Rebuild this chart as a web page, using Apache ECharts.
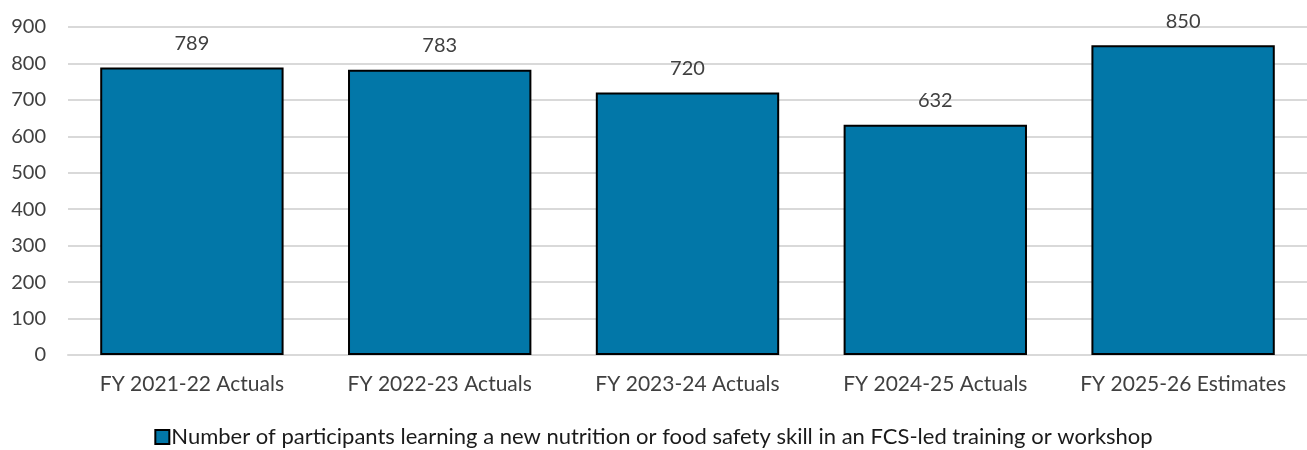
<!DOCTYPE html>
<html>
<head>
<meta charset="utf-8">
<script src="https://cdn.jsdelivr.net/npm/echarts@6/dist/echarts.min.js"></script>
<style>
  html, body { margin: 0; padding: 0; background: #fff; }
  #chart { width: 1307px; height: 450px; }
</style>
</head>
<body>
<div id="chart"></div>
<script>
// Fiscal years shown along the x axis
const categories = [
  'FY 2021-22 Actuals',
  'FY 2022-23 Actuals',
  'FY 2023-24 Actuals',
  'FY 2024-25 Actuals',
  'FY 2025-26 Estimates'
];
// Participant counts per year
const participants = [789, 783, 720, 632, 850];
const seriesName = 'Number of participants learning a new nutrition or food safety skill in an FCS-led training or workshop';

const FONT = 'Lato, "Open Sans", sans-serif';
const TEXT = '#404040';

const chart = echarts.init(document.getElementById('chart'), null, { renderer: 'canvas' });
chart.setOption({
  animation: false,
  textStyle: { fontFamily: FONT },
  grid: { left: 68, right: 0, top: 27, bottom: 95, containLabel: false },
  legend: {
    bottom: -3,
    left: 'center',
    icon: 'rect',
    itemWidth: 14,
    itemHeight: 14,
    itemGap: 4,
    data: [seriesName],
    itemStyle: { borderColor: '#000', borderWidth: 2 },
    textStyle: { fontFamily: FONT, fontSize: 22, color: '#1a1a1a', padding: [0, 0, 0, -3] }
  },
  xAxis: {
    type: 'category',
    data: categories,
    axisTick: { show: false },
    axisLine: { show: true, lineStyle: { color: '#d9d9d9', width: 2 } },
    axisLabel: { interval: 0, fontFamily: FONT, fontSize: 21, color: TEXT, margin: 19 }
  },
  yAxis: {
    type: 'value',
    min: 0,
    max: 900,
    interval: 100,
    axisLine: { show: false },
    axisTick: { show: false },
    splitLine: { lineStyle: { color: '#d9d9d9', width: 2 } },
    axisLabel: { fontFamily: FONT, fontSize: 20, color: TEXT, margin: 22 }
  },
  series: [{
    name: seriesName,
    type: 'bar',
    data: participants,
    barWidth: '74%',
    itemStyle: { color: '#0277a8', borderColor: '#000', borderWidth: 2 },
    label: {
      show: true,
      position: 'top',
      distance: 14,
      fontFamily: FONT,
      fontSize: 20,
      color: TEXT
    }
  }]
});
</script>
</body>
</html>
